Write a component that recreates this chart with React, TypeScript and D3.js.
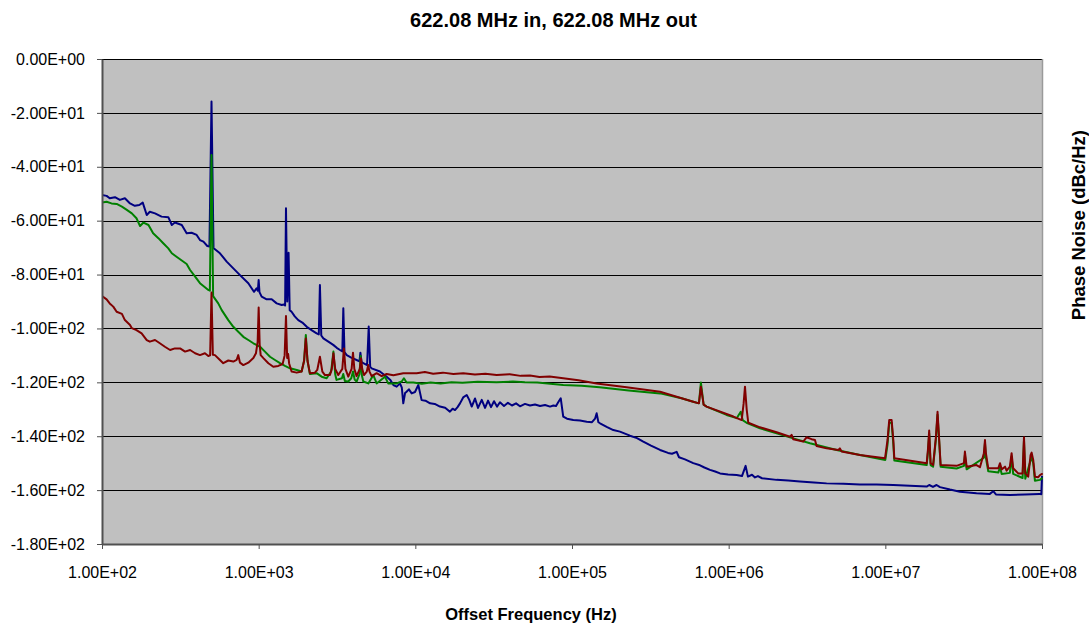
import React, { useEffect, useRef } from 'react';
import * as d3 from 'd3';

const chartTitle = '622.08 MHz in, 622.08 MHz out';
const xTitle = 'Offset Frequency (Hz)';
const yTitle = 'Phase Noise (dBc/Hz)';

const xTicks = [1e2, 1e3, 1e4, 1e5, 1e6, 1e7, 1e8];
const yTicks = [0, -20, -40, -60, -80, -100, -120, -140, -160, -180];

// [offset frequency Hz, dBc/Hz]
const blueTrace: [number, number][] = [
  [100,-50.5],[107,-50.8],[112,-51.7],[121,-51.3],[130,-52.3],[140,-51.7],[151,-53.6],[162,-54.5],[173,-54.2],[182,-53.3],
  [193,-57.9],[202,-56.7],[218,-57.3],[240,-58.5],[265,-58.7],[279,-61.6],[292,-60.7],[323,-61.6],[347,-64.7],[373,-64.5],
  [402,-65.3],[422,-67.2],[444,-67.8],[470,-69.4],[485,-69.6],[500,-15.8],[515,-70.2],[526,-70.6],[566,-72.1],[625,-75.2],
  [689,-77.7],[760,-80.2],[859,-83.2],[933,-86.4],[970,-85.1],[988,-86],[1000,-82],[1012,-86.5],[1045,-88.2],[1125,-89.2],
  [1211,-89.2],[1303,-90.7],[1403,-91.3],[1449,-91.1],[1475,-91.5],[1494,-55.4],[1522,-90],[1552,-71.9],[1578,-93.2],[1622,-93.8],
  [1700,-95.5],[1790,-96.9],[1900,-97.8],[2028,-99.4],[2200,-100.8],[2344,-101.8],[2420,-102.2],[2460,-83.9],[2510,-102.6],[2588,-103.7],
  [2800,-105],[2992,-106.1],[3150,-107.2],[3304,-108],[3420,-108.5],[3470,-92.5],[3530,-108.8],[3648,-109.9],[3900,-110.8],[4217,-111.7],
  [4400,-112.2],[4460,-109],[4540,-112.5],[4656,-112.9],[4920,-113.6],[5040,-99.3],[5150,-114.2],[5260,-114.8],[5943,-116],[6561,-117.9],
  [6900,-119],[7244,-121],[7603,-121.6],[7980,-120.4],[8200,-122],[8375,-127.8],[8600,-124],[8790,-123.5],[9100,-122.6],[9480,-124.1],
  [9950,-123.6],[10450,-121],[10970,-126.6],[11600,-126.8],[12420,-127.8],[13300,-128],[14360,-129],[15500,-129.4],[16630,-130.9],[17300,-129.8],
  [17910,-130.3],[18600,-129.2],[19280,-127.8],[20200,-125.6],[21280,-124.7],[22100,-126.5],[22910,-129],[24050,-126],[25120,-129.5],[26540,-126.5],
  [27860,-129.5],[29120,-126.8],[30420,-129.2],[31790,-127],[33220,-129],[34690,-127.4],[36810,-128.8],[39000,-127.6],[41380,-128.6],[43940,-127.8],
  [46560,-128.9],[50120,-128],[53950,-128.6],[58070,-128.2],[62520,-128.8],[67300,-128.4],[72440,-129],[76030,-128.6],[79080,-128.8],[81470,-127.5],
  [84720,-125.9],[87900,-132.7],[92900,-133.5],[101900,-134],[112400,-134.2],[124200,-134.6],[134200,-134.8],[140300,-133.5],[143700,-131.5],[147400,-134.8],
  [151000,-135.2],[166400,-136.5],[183500,-137.7],[202300,-138.3],[234400,-139.8],[260000,-140.7],[285100,-142],[319200,-143.5],[364800,-145.1],[410200,-146.2],[434800,-146.5],
  [465600,-145.8],[481900,-147.8],[526000,-148.6],[594300,-150],[656100,-150.8],[700000,-151.6],[760300,-152.5],[820000,-153.1],[881000,-153.8],[990800,-154.2],[1124000,-154.4],[1216000,-154.8],
  [1283000,-151],[1327000,-155],[1409000,-154.3],[1472000,-155.3],[1538000,-154.8],[1632000,-155.6],[2024000,-156.2],[2400000,-156.4],[2851000,-156.8],[3500000,-157.2],[4217000,-157.5],[5400000,-157.6],[6887000,-157.9],
  [8800000,-157.9],[11250000,-158.1],[14360000,-158.4],[18370000,-158.7],[19050000,-158.1],[20140000,-158.8],[21230000,-158.1],[22320000,-158.9],[25860000,-159.8],[29920000,-160.6],[38190000,-161.2],
  [46450000,-161.4],[48860000,-160.4],[50800000,-161.6],[62370000,-161.8],[77800000,-161.6],[96200000,-161.4],[99000000,-161.5],[100000000,-155],
];

const greenTrace: [number, number][] = [
  [100,-53.3],[107,-53.0],[115,-53.6],[124,-53.8],[134,-54.8],[144,-56.0],[155,-57.3],[166,-59.1],[175,-62.0],[184,-60.7],
  [198,-61.6],[212,-64.7],[229,-66.5],[246,-68.4],[265,-70.3],[279,-72.1],[299,-73.4],[323,-74.8],[347,-76.1],[365,-78.3],
  [393,-80.8],[422,-83.2],[454,-84.7],[477,-85.7],[488,-86],[500,-35.6],[512,-88],[552,-90.7],[581,-93.2],[640,-96.9],
  [689,-99.4],[741,-101.2],[798,-103.1],[859,-104.3],[925,-105.5],[1021,-106.8],[1097,-108.6],[1181,-110.5],[1271,-111.7],[1368,-112.9],
  [1472,-113.9],[1585,-114.8],[1750,-115.4],[1880,-116],[1950,-112],[2000,-102.4],[2050,-112],[2123,-116.9],[2344,-116.6],[2523,-117.9],
  [2716,-118.5],[2900,-116],[3000,-108.6],[3080,-117],[3141,-119.1],[3400,-118.5],[3467,-116.9],[3550,-119.5],[3733,-119.7],[3900,-118.5],
  [4000,-116],[4100,-119],[4217,-119.7],[4400,-117],[4480,-110.2],[4560,-117.5],[4656,-119.7],[5012,-120.4],[5395,-117.3],[5662,-120.4],
  [6397,-117.9],[6714,-120.4],[7603,-120.4],[8184,-119.7],[8457,-118.5],[8790,-120.1],[9705,-120.1],[11000,-120.5],[12500,-120.1],[14500,-120.4],
  [17000,-120],[20000,-120.2],[25000,-119.8],[33000,-120],[42000,-119.7],[50000,-120],[60000,-120.1],[70000,-120.4],[88000,-121],[115000,-121.3],[150000,-121.8],[230000,-123],[365000,-124.1],[500000,-125.9],[594000,-127.2],[646000,-127.8],
  [665000,-120.1],[692000,-128.3],[723000,-129],[970000,-132.1],[1125000,-133.3],[1194000,-130.9],[1228000,-134],[1300000,-135],[1585000,-137.1],[2024000,-138.9],
  [2583000,-140.8],[3303000,-142.6],[4887000,-145.1],[6887000,-147],[10000000,-148.8],[10330000,-143],[10590000,-135],[10970000,-135],[11250000,-143],[11410000,-149],
  [18370000,-150.7],[18700000,-146],[19050000,-139],[19450000,-150.7],[20180000,-151.3],[21040000,-141],[21540000,-132],[22070000,-142],[22540000,-151.3],[28510000,-152],
  [31770000,-151],[32210000,-147],[33040000,-152.3],[42560000,-148],[43250000,-142.5],[43850000,-148],[45390000,-153],[52600000,-153.5],[53950000,-151.5],[55300000,-154],
  [62370000,-153.6],[63970000,-147.5],[65460000,-154],[75160000,-155.5],[76740000,-141.5],[78220000,-155.8],[84550000,-149],[85870000,-147.5],[87900000,-150],[90110000,-156.5],
  [97050000,-156.2],[100000000,-155.6],
];

const redTrace: [number, number][] = [
  [100,-88],[107,-89.2],[112,-90.7],[118,-91.9],[124,-93.8],[134,-94.6],[140,-96.9],[151,-98.7],[155,-99.9],[166,-100.6],
  [179,-101.8],[193,-104.3],[202,-104.9],[218,-104.3],[234,-105.5],[252,-106.8],[272,-108],[292,-107.4],[315,-107.4],[339,-108.6],
  [365,-108],[393,-109.2],[422,-109.9],[454,-109.2],[477,-110.2],[490,-110],[500,-86.7],[510,-109.8],[526,-109.9],[566,-111.7],
  [594,-112.9],[640,-111.9],[689,-112.3],[723,-111.7],[741,-109.9],[760,-112.7],[798,-113.6],[859,-112.7],[925,-111],[961,-109.2],
  [985,-105],[1000,-92.2],[1015,-106],[1030,-109.9],[1072,-111],[1153,-112.9],[1240,-114.2],[1334,-113.9],[1422,-113.2],[1465,-110],
  [1494,-95.4],[1520,-111],[1542,-109.5],[1565,-113],[1622,-116],[1750,-116.4],[1880,-116],[1950,-112],[2000,-103.7],[2050,-112],
  [2123,-116.6],[2286,-116.4],[2366,-115.4],[2460,-110.5],[2550,-116],[2649,-117.3],[2851,-117.3],[2930,-115],[3000,-109.2],[3080,-115],
  [3221,-117.3],[3420,-115],[3500,-107.4],[3580,-115],[3733,-117.9],[3920,-115],[4000,-109],[4080,-115],[4217,-117.7],[4420,-115],
  [4500,-111.1],[4580,-115],[4699,-117.3],[4900,-116],[5000,-113.6],[5100,-116],[5260,-117.7],[5662,-116.6],[6095,-117.7],[6561,-116.9],
  [7244,-117.4],[8375,-116.6],[10190,-116.6],[11500,-116.2],[13000,-116.8],[15000,-116.4],[17500,-116.9],[20230,-116.6],[24000,-117.1],[28000,-116.8],
  [33040,-117.3],[40000,-117],[47000,-117.6],[53950,-117.5],[62000,-118],[72000,-117.8],[87900,-118.5],[110000,-119.2],[143700,-120.4],[223000,-121.8],
  [365000,-123.5],[594000,-127.2],[646000,-127.8],[665000,-121.6],[692000,-128.3],[723000,-129],[1072000,-132.7],[1211000,-134],[1245000,-128],[1271000,-121.6],
  [1303000,-130],[1334000,-135],[1585000,-136.7],[2024000,-138.5],[2460000,-140.2],[2523000,-139.5],[2583000,-141.1],[2992000,-142],[3141000,-140.4],[3381000,-141.1],
  [3555000,-141.4],[3642000,-143.6],[4217000,-144.5],[5012000,-145.1],[5129000,-144.5],[5260000,-145.7],[6887000,-147],[9954000,-148.2],[10330000,-141.4],[10590000,-134],
  [10970000,-134],[11250000,-141.4],[11410000,-148.2],[18370000,-150],[18700000,-145.1],[19050000,-137.9],[19450000,-150],[20180000,-150.7],[21040000,-140.2],[21540000,-130.9],
  [22070000,-141.4],[22540000,-150.7],[28510000,-151],[31770000,-150],[32210000,-145.7],[33040000,-151.3],[38190000,-150.7],[40180000,-151.5],[42560000,-146.3],[43250000,-141.4],
  [43850000,-146.3],[45390000,-151.9],[52600000,-151.9],[53950000,-150],[55300000,-152.3],[58070000,-151.3],[59430000,-152.8],[62370000,-151.3],[63970000,-146.3],[65460000,-151.9],
  [70470000,-153.8],[75160000,-153.8],[76740000,-140.4],[78220000,-153.8],[81650000,-155],[84550000,-147],[85870000,-146.1],[87900000,-148.8],[90110000,-155],[94600000,-155.2],
  [97050000,-154.4],[100000000,-154],
];

const traces = [
  { name: 'blue', data: blueTrace, color: '#000080' },
  { name: 'green', data: greenTrace, color: '#008000' },
  { name: 'red', data: redTrace, color: '#800000' },
];

const W = 1089;
const H = 627;
const PL = 102, PR = 1042, PT = 59, PB = 544;
const FONT = '"Liberation Sans", Arial, Helvetica, sans-serif';

function sci(v: number): string {
  const [m, e] = v.toExponential(2).split('e');
  const sign = e[0] === '-' ? '-' : '+';
  const digits = e.replace(/^[+-]/, '').padStart(2, '0');
  return `${m}E${sign}${digits}`;
}

export default function App() {
  const ref = useRef<SVGSVGElement>(null);

  useEffect(() => {
    const svg = d3.select(ref.current);
    svg.selectAll('*').remove();

    const x = d3.scaleLog().domain([1e2, 1e8]).range([PL, PR]);
    const y = d3.scaleLinear().domain([-180, 0]).range([PB, PT]);

    svg.append('rect').attr('x', 0).attr('y', 0).attr('width', W).attr('height', H).attr('fill', '#ffffff');
    svg.append('rect').attr('x', PL).attr('y', PT).attr('width', PR - PL).attr('height', PB - PT).attr('fill', '#c0c0c0');

    // gridlines
    svg.append('g').selectAll('line').data(yTicks.filter(t => t !== -180)).join('line')
      .attr('x1', PL).attr('x2', PR)
      .attr('y1', d => Math.round(y(d)) + 0.5).attr('y2', d => Math.round(y(d)) + 0.5)
      .attr('stroke', '#000').attr('stroke-width', 1);

    // right border
    svg.append('line').attr('x1', PR + 0.5).attr('x2', PR + 0.5).attr('y1', PT).attr('y2', PB)
      .attr('stroke', '#9a9a9a').attr('stroke-width', 1.5);

    svg.append('defs').append('clipPath').attr('id', 'plotclip')
      .append('rect').attr('x', PL).attr('y', PT - 2).attr('width', PR - PL + 1).attr('height', PB - PT + 2);

    const line = d3.line<[number, number]>().x(d => x(d[0])).y(d => y(d[1]));
    const lg = svg.append('g').attr('clip-path', 'url(#plotclip)');
    traces.forEach(t => {
      lg.append('path').datum(t.data).attr('d', line)
        .attr('fill', 'none').attr('stroke', t.color).attr('stroke-width', 2)
        .attr('stroke-linejoin', 'round').attr('stroke-linecap', 'round');
    });

    // axes
    const yAxis = d3.axisLeft(y).tickValues(yTicks).tickSize(5).tickSizeOuter(0).tickPadding(12).tickFormat(d => sci(+d));
    const gy = svg.append('g').attr('transform', `translate(${PL},0)`).call(yAxis);
    const xAxis = d3.axisBottom(x).tickValues(xTicks).tickSize(5).tickSizeOuter(0).tickPadding(18).tickFormat(d => sci(+d));
    const gx = svg.append('g').attr('transform', `translate(0,${PB})`).call(xAxis);

    [gx, gy].forEach(g => {
      g.select('.domain').attr('stroke', '#505050').attr('stroke-width', 2);
      g.selectAll('.tick line').attr('stroke', '#505050').attr('stroke-width', 1);
      g.selectAll('.tick text').attr('fill', '#000').style('font-family', FONT).style('font-size', '16px');
    });

    svg.append('text').attr('x', 553.5).attr('y', 27).attr('text-anchor', 'middle')
      .style('font-family', FONT).style('font-size', '20px').style('font-weight', 'bold').text(chartTitle);
    svg.append('text').attr('x', 531).attr('y', 619.5).attr('text-anchor', 'middle')
      .style('font-family', FONT).style('font-size', '16.5px').style('font-weight', 'bold').text(xTitle);
    svg.append('text').attr('transform', 'translate(1085,130) rotate(-90)').attr('text-anchor', 'end')
      .style('font-family', FONT).style('font-size', '18.5px').style('font-weight', 'bold').text(yTitle);
  }, []);

  return (
    <svg ref={ref} width={W} height={H} style={{ position: 'absolute', left: 0, top: 0, display: 'block' }} />
  );
}
